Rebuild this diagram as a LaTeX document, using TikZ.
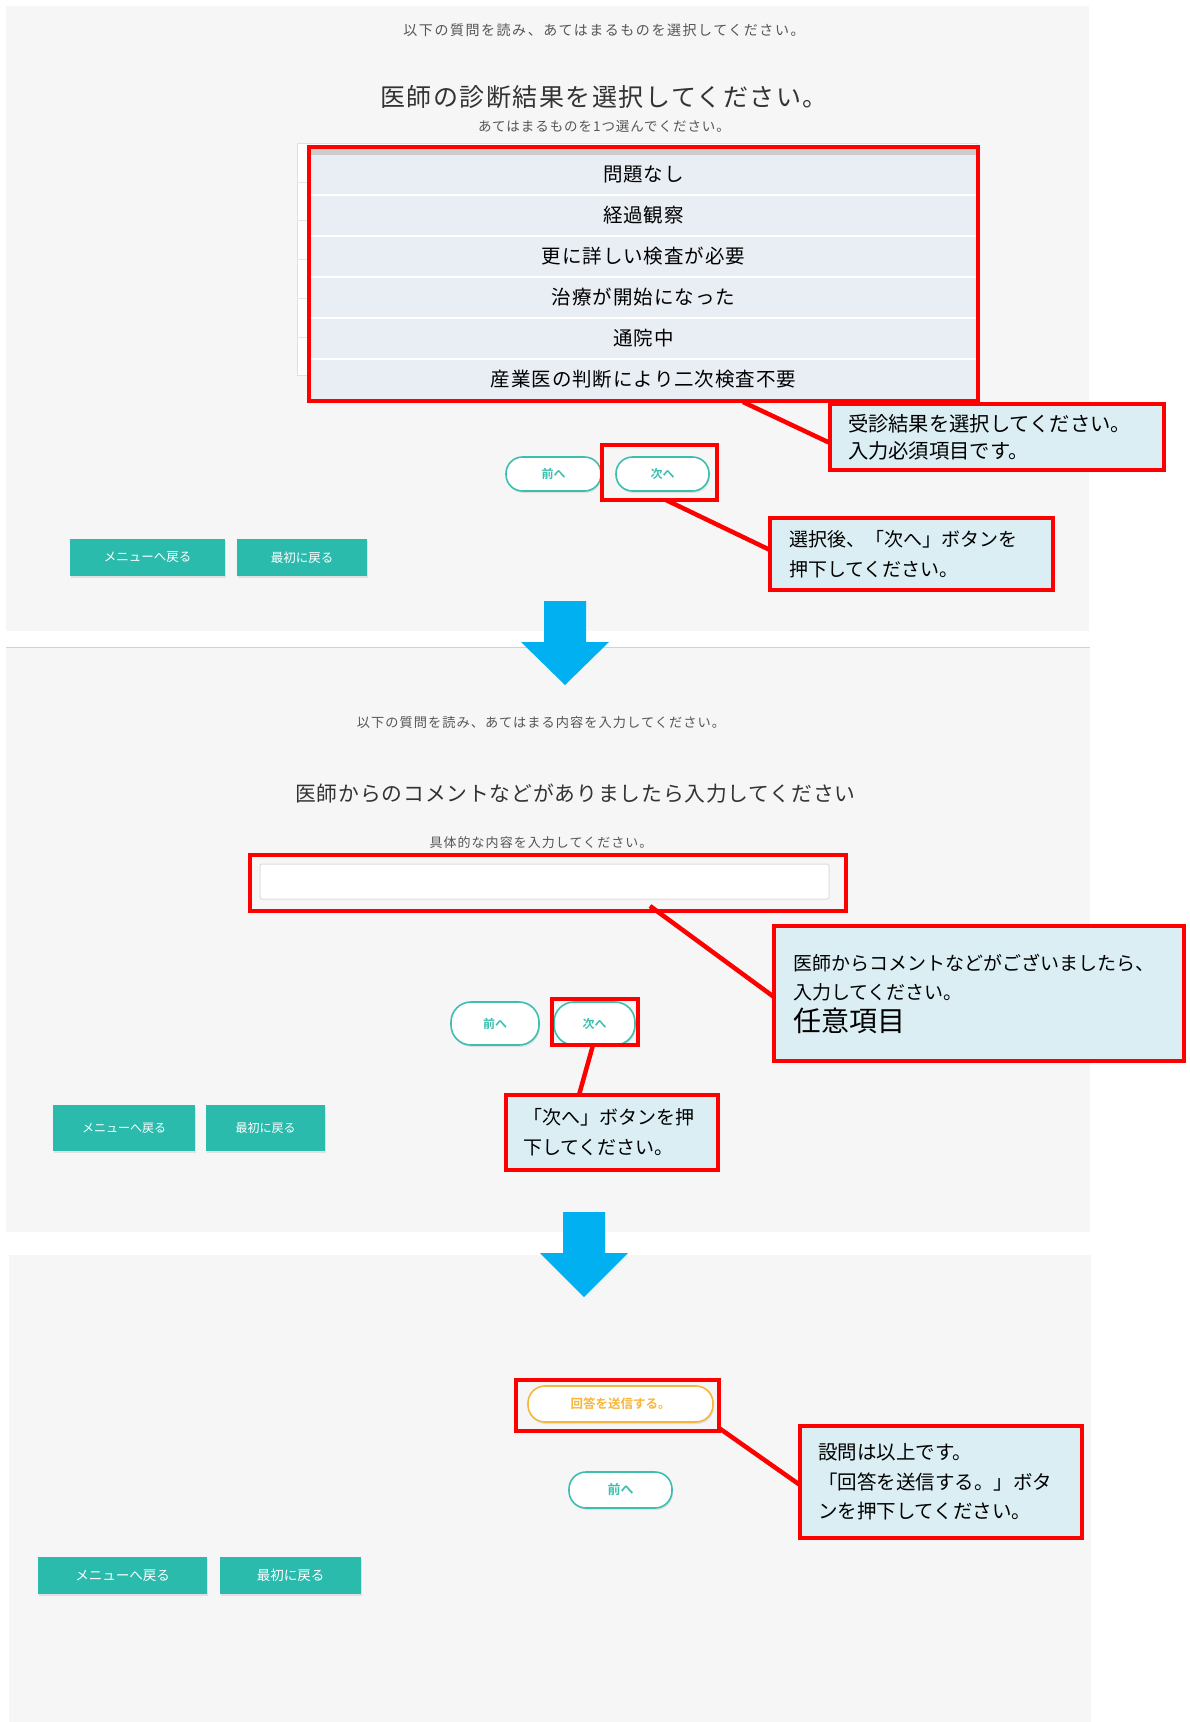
\documentclass[tikz,border=0pt]{standalone}
\usepackage{fontspec}
\setmainfont{Noto Sans CJK JP}[BoldFont={Noto Sans CJK JP Bold}]
\usetikzlibrary{shadows}
\pgfdeclarelayer{back}
\pgfdeclarelayer{mid}
\pgfsetlayers{back,mid,main}
\definecolor{panelbg}{HTML}{F6F6F6}
\definecolor{callfill}{HTML}{DAEEF3}
\definecolor{rowfill}{HTML}{E9EDF4}
\definecolor{tealbtn}{HTML}{2BBBAD}
\definecolor{tealline}{HTML}{3DBFB0}
\definecolor{amber}{HTML}{F6B73C}
\definecolor{arrowblue}{HTML}{00B0F0}
\definecolor{graytxt}{HTML}{555555}
\definecolor{titletxt}{HTML}{333333}
\definecolor{sepline}{HTML}{C8D2E2}
\newcommand{\fs}[2]{\fontsize{#1}{#2}\selectfont}
\tikzset{
  every node/.style={inner sep=0pt, outer sep=0pt},
  redbox/.style={draw=red, line width=4.5pt, rectangle},
  conn/.style={draw=red, line width=4.5pt},
  callout/.style={draw=red, line width=4pt, fill=callfill, rectangle, align=left, text=black},
  pill/.style={draw=tealline, line width=1.6pt, fill=white, text=tealline,
     font=\bfseries\fs{12}{12}, drop shadow={opacity=0.18, shadow xshift=1pt, shadow yshift=-2pt}},
  menubtn/.style={fill=tealbtn, text=white, font=\fs{12.5}{12.5},
     drop shadow={opacity=0.18, shadow xshift=1pt, shadow yshift=-2pt}},
  row/.style={fill=rowfill, minimum width=665, minimum height=39, text=black,
     font=\fs{19.5}{20}\addfontfeature{LetterSpace=5}},
  hint/.style={text=graytxt},
}
\begin{document}
\begin{tikzpicture}[x=1pt, y=-1pt]
\useasboundingbox (0,0) rectangle (1190,1722);
\begin{pgfonlayer}{back}
\fill[white] (0,0) rectangle (1190,1722);
\fill[panelbg] (6,6) rectangle (1089,631);
\fill[panelbg] (6,648) rectangle (1090,1232);
\draw[sepline, line width=1.5pt] (6,647.5) -- (1090,647.5);
\fill[panelbg] (9,1255) rectangle (1091,1722);
\end{pgfonlayer}

% ---------------- panel 1 ----------------
\node[hint, font=\fs{14}{14}\addfontfeature{LetterSpace=11}] (p1a) at (604,30) {以下の質問を読み、あてはまるものを選択してください。};
\node[text=titletxt, font=\fs{25}{26}\addfontfeature{LetterSpace=6}] (p1t) at (604,97) {医師の診断結果を選択してください。};
\node[hint, font=\fs{13.5}{14}\addfontfeature{LetterSpace=7}] (p1b) at (604,126) {あてはまるものを1つ選んでください。};

% faint underlying list
\draw[draw=black!12, fill=white, line width=0.8pt] (297,143) rectangle (977,375);
\foreach \yy in {182,220,259,298,337} \draw[black!10, line width=0.8pt] (297,\yy) -- (977,\yy);

% option rows
\fill[black!20] (311,149) rectangle (976,155);
\node[row] (o1) at (643.5,174.5) {問題なし};
\node[row] (o2) at (643.5,215.5) {経過観察};
\node[row] (o3) at (643.5,256.5) {更に詳しい検査が必要};
\node[row] (o4) at (643.5,297.5) {治療が開始になった};
\node[row] (o5) at (643.5,338.5) {通院中};
\node[row] (o6) at (643.5,379.5) {産業医の判断により二次検査不要};
\node[redbox, minimum width=669, minimum height=254] (rlist) at (643.5,274) {};

% buttons
\node[pill, rounded corners=16.5pt, minimum width=95, minimum height=34] (prev1) at (553.5,474) {前へ};
\node[pill, rounded corners=16.5pt, minimum width=93, minimum height=34] (next1) at (662.5,474) {次へ};
\node[redbox, minimum width=115, minimum height=55] (rnext1) at (659.5,472.5) {};
\node[menubtn, minimum width=155, minimum height=37] (menu1) at (147.5,557.5) {メニューへ戻る};
\node[menubtn, minimum width=130, minimum height=37] (first1) at (302,557.5) {最初に戻る};

% callouts
\node[callout, minimum width=334, minimum height=66, text width=298, inner xsep=18pt, font=\fs{20.3}{27}] (c1) at (997,437)
  {受診結果を選択してください。\\入力必須項目です。};
\node[callout, minimum width=283, minimum height=72, text width=245, inner xsep=19pt, font=\fs{19}{30}] (c2) at (911.5,554)
  {選択後、「次へ」ボタンを\\押下してください。};
\coordinate (k1) at (743,402);
\coordinate (k2) at (666,500);
\begin{pgfonlayer}{mid}
\draw[conn] (k1) -- ([yshift=-6pt]c1.west);
\draw[conn] (k2) -- ([yshift=4pt]c2.west);
\end{pgfonlayer}

% arrow 1
\fill[arrowblue] (544,601) -- (586,601) -- (586,642) -- (609,642) -- (565,685) -- (521,642) -- (544,642) -- cycle;

% ---------------- panel 2 ----------------
\node[hint, font=\fs{13.2}{14}\addfontfeature{LetterSpace=8}] (p2a) at (541,722) {以下の質問を読み、あてはまる内容を入力してください。};
\node[text=titletxt, font=\fs{20.8}{22}\addfontfeature{LetterSpace=4}] (p2t) at (575.5,794) {医師からのコメントなどがありましたら入力してください};
\node[hint, font=\fs{13}{14}\addfontfeature{LetterSpace=8}] (p2b) at (541,843) {具体的な内容を入力してください。};
\node[draw=black!13, fill=white, line width=1pt, rounded corners=2pt, minimum width=569, minimum height=35] (input) at (544.5,881.5) {};
\node[redbox, minimum width=596, minimum height=56] (rinput) at (548,883) {};

\node[pill, rounded corners=20pt, minimum width=88, minimum height=43] (prev2) at (495,1023.5) {前へ};
\node[pill, rounded corners=20pt, minimum width=81, minimum height=43] (next2) at (594.5,1023.5) {次へ};
\node[redbox, minimum width=86, minimum height=46] (rnext2) at (595,1022) {};
\node[menubtn, font=\fs{12}{12}, minimum width=142, minimum height=46] (menu2) at (124,1128) {メニューへ戻る};
\node[menubtn, font=\fs{12}{12}, minimum width=119, minimum height=46] (first2) at (265.5,1128) {最初に戻る};

\node[callout, minimum width=410, minimum height=135, text width=372, inner xsep=19pt, font=\fs{19}{29}] (c3) at (979,993.5)
  {医師からコメントなどがございましたら、\\入力してください。\\[3pt]{\fs{28}{30}任意項目}};
\node[callout, minimum width=212, minimum height=75, text width=178, inner xsep=17pt, font=\fs{19}{30}] (c4) at (612,1132.5)
  {「次へ」ボタンを押\\下してください。};
\coordinate (k3) at (650,906);
\begin{pgfonlayer}{mid}
\draw[conn] (k3) -- ([yshift=-3.5pt]c3.west);
\draw[conn] ([xshift=-2pt]rnext2.south) -- ([xshift=-33pt]c4.north);
\end{pgfonlayer}

% arrow 2
\fill[arrowblue] (563,1212) -- (605,1212) -- (605,1253) -- (628,1253) -- (584,1297) -- (540,1253) -- (563,1253) -- cycle;

% ---------------- panel 3 ----------------
\node[pill, draw=amber, text=amber, font=\bfseries\fs{12.5}{13}, rounded corners=17pt, minimum width=185, minimum height=36] (send) at (620.5,1404) {回答を送信する。};
\node[redbox, minimum width=203, minimum height=51] (rsend) at (617.5,1405.5) {};
\node[pill, font=\bfseries\fs{13}{13}, rounded corners=17pt, minimum width=103, minimum height=36] (prev3) at (620.5,1490) {前へ};
\node[menubtn, font=\fs{13.5}{14}, minimum width=169, minimum height=37] (menu3) at (122.5,1575.5) {メニューへ戻る};
\node[menubtn, font=\fs{13.5}{14}, minimum width=141, minimum height=37] (first3) at (290.5,1575.5) {最初に戻る};

\node[callout, minimum width=282, minimum height=112, text width=246, inner xsep=18pt, font=\fs{19.5}{29.5}] (c5) at (941,1482)
  {設問は以上です。\\「回答を送信する。」ボタ\\ンを押下してください。};
\begin{pgfonlayer}{mid}
\draw[conn] ([yshift=3pt]rsend.south east) -- ([yshift=-3pt]c5.west);
\end{pgfonlayer}
\end{tikzpicture}
\end{document}
